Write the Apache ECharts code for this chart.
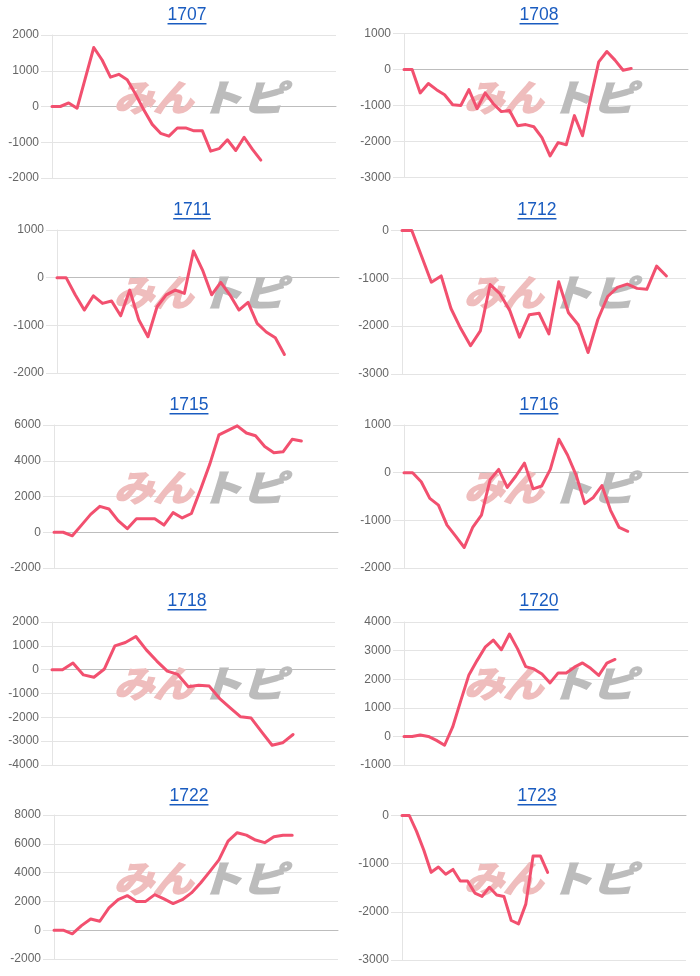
<!DOCTYPE html>
<html><head><meta charset="utf-8">
<script src="https://cdn.jsdelivr.net/npm/echarts@6/dist/echarts.min.js"></script>
<style>html,body{margin:0;padding:0;background:#fff}#c{width:700px;height:976px}</style>
</head><body><div id="c"></div>
<script>
// ---- data ----
const titles = ['1707','1708','1711','1712','1715','1716','1718','1720','1722','1723'];
const v1707 = [0,0,100,-50,800,1650,1300,820,900,750,350,-100,-500,-750,-830,-600,-600,-680,-680,-1250,-1180,-930,-1230,-860,-1200,-1500];
const v1708 = [0,0,-650,-390,-560,-700,-980,-1000,-560,-1090,-650,-950,-1170,-1140,-1560,-1530,-1590,-1890,-2400,-2030,-2090,-1280,-1840,-800,210,500,260,-20,30];
const v1711 = [0,0,-360,-680,-380,-540,-490,-800,-260,-890,-1240,-610,-360,-260,-330,560,160,-360,-100,-360,-680,-520,-960,-1140,-1260,-1610];
const v1712 = [0,0,-540,-1080,-950,-1630,-2050,-2410,-2100,-1130,-1320,-1670,-2230,-1760,-1730,-2160,-1070,-1720,-1970,-2550,-1860,-1380,-1190,-1120,-1210,-1230,-745,-950];
const v1715 = [0,0,-200,400,1000,1450,1300,650,200,750,750,750,400,1100,800,1050,2400,3800,5450,5700,5950,5550,5400,4800,4450,4500,5200,5100];
const v1716 = [0,0,-190,-540,-680,-1100,-1330,-1570,-1140,-890,-150,70,-310,-70,200,-340,-280,70,700,370,-50,-650,-520,-270,-790,-1150,-1230];
const v1718 = [0,0,280,-220,-320,30,1000,1140,1390,830,360,-60,-200,-720,-650,-690,-1210,-1600,-1980,-2030,-2610,-3170,-3070,-2720];
const v1720 = [0,0,50,0,-140,-310,330,1250,2150,2650,3120,3370,3030,3580,3060,2440,2360,2180,1870,2220,2220,2420,2570,2380,2130,2560,2690];
const v1722 = [0,0,-250,320,780,620,1550,2130,2400,2000,2000,2470,2170,1850,2120,2590,3280,4070,4880,6190,6770,6600,6260,6080,6490,6600,6600];
const v1723 = [0,0,-330,-720,-1180,-1070,-1220,-1120,-1360,-1360,-1610,-1680,-1490,-1650,-1680,-2180,-2250,-1840,-840,-840,-1180];
const seriesValues = [v1707,v1708,v1711,v1712,v1715,v1716,v1718,v1720,v1722,v1723];
const categoryCounts = [35,36,32,30,32,34,28,36,32,40];
const yMin = [-2000,-3000,-2000,-3000,-2000,-2000,-4000,-1000,-2000,-3000];
const yMax = [2000,1000,1000,0,6000,1000,2000,4000,8000,0];
const yStep = [1000,1000,1000,1000,2000,1000,1000,1000,2000,1000];
const watermarkParts = ['みん','トピ'];

// ---- layout (px) ----
const plotBox = [
  [52,35,284,143],[404,33.5,284,144],
  [57,230,282,143],[402,230.5,284,143.5],
  [54,425,284,143],[404,425,284,143],
  [52,622,283,143],[404,622,284,143],
  [54,815,284,144],[402,815.5,284,144.5]
];
const titleCenter = [
  [187,15],[539,15],[192,210],[537,210],[189,405],[539,405],[187,601],[539,601],[189,796],[537,796]
];

const FONT = '"Liberation Sans", Arial, Helvetica, sans-serif';
const LINK = '#1a5cc0';
const cv = document.createElement('canvas').getContext('2d');

const grid=[], xAxis=[], yAxis=[], series=[], graphic=[];
titles.forEach((t,i)=>{
  const [l,tp,w,h] = plotBox[i];
  grid.push({left:l, top:tp, width:w, height:h, containLabel:false});
  const cats = Array.from({length:categoryCounts[i]},(_,k)=>String(k+1));
  xAxis.push({type:'category', gridIndex:i, data:cats, boundaryGap:false,
    axisLabel:{show:false}, axisTick:{show:false}, splitLine:{show:false},
    axisLine:{show:true, onZero:true, lineStyle:{color:'#bdbdbd', width:1}}});
  yAxis.push({type:'value', gridIndex:i, min:yMin[i], max:yMax[i], interval:yStep[i],
    axisLine:{show:true, lineStyle:{color:'#e4e4e4'}},
    axisTick:{show:true, length:11, lineStyle:{color:'#e4e4e4'}},
    axisLabel:{color:'#666', fontSize:12, fontFamily:FONT, margin:13, formatter:v=>String(v)},
    splitLine:{show:true, lineStyle:{color:'#e4e4e4', width:1}}});
  series.push({type:'line', xAxisIndex:i, yAxisIndex:i, data:seriesValues[i],
    symbol:'none', showSymbol:false, smooth:false, z:3,
    lineStyle:{color:'#f2506f', width:3, join:'round', cap:'round'}});
  // title + underline
  const [cx,cy] = titleCenter[i];
  const f = '17.5px ' + FONT;
  cv.font = f;
  const tw = cv.measureText(t).width;
  graphic.push({type:'text', x:cx, y:cy, z:5, style:{text:t, font:f, fill:LINK, align:'center', verticalAlign:'middle'}});
  graphic.push({type:'rect', z:5, shape:{x:cx-tw/2, y:cy+8, width:tw, height:1.4}, style:{fill:LINK}});
  // watermark
  const px0 = (i%2)*350, py0 = Math.floor(i/2)*195 + (i>=6 ? 1 : 0);
  const wf = 'bold 36px "Noto Sans CJK JP"';
  graphic.push({type:'text', x:px0+118, y:py0+97, z:1, skewX:-0.3, scaleX:1.1,
    style:{text:watermarkParts[0], font:wf, fill:'#efbdbd', stroke:'#efbdbd', lineWidth:2, align:'left', verticalAlign:'middle'}});
  graphic.push({type:'text', x:px0+203, y:py0+97, z:1, skewX:-0.3, scaleX:1.2,
    style:{text:watermarkParts[1], font:wf, fill:'#bcbcbc', stroke:'#bcbcbc', lineWidth:2, align:'left', verticalAlign:'middle'}});
});

const chart = echarts.init(document.getElementById('c'), null, {renderer:'canvas'});
chart.setOption({animation:false, backgroundColor:'#fff', grid, xAxis, yAxis, series, graphic});
</script></body></html>
